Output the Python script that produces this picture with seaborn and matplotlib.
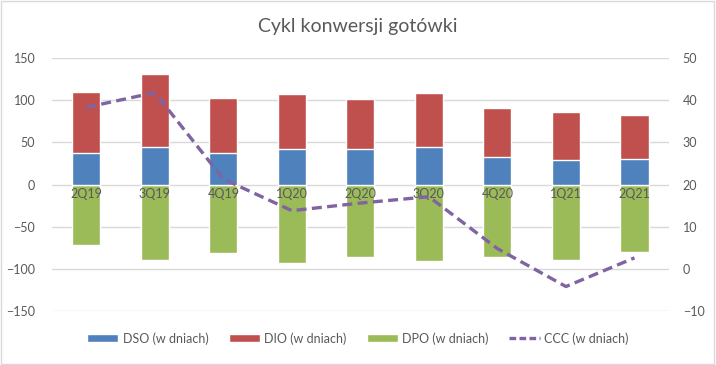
import numpy as np
import pandas as pd
import seaborn as sns
import matplotlib.pyplot as plt
from matplotlib.patches import Patch, Rectangle
from matplotlib.lines import Line2D

# values
quarters = ['2Q19', '3Q19', '4Q19', '1Q20', '2Q20', '3Q20', '4Q20', '1Q21', '2Q21']
dso = [37, 45, 37, 42.5, 42.5, 44, 32.5, 28.5, 30]
dio = [73, 86, 66, 64.5, 59.5, 64, 58.5, 57, 53]
dpo = [-72, -89, -81.5, -93, -86, -91, -86, -89, -80]
ccc = [38.3, 41.8, 21.3, 13.8, 15.6, 17.1, 4.8, -4.2, 2.6]

c_dso = '#4F81BD'
c_dio = '#C0504D'
c_dpo = '#9BBB59'
c_ccc = '#8064A2'
txt = '#595959'
grid = '#D9D9D9'

df = pd.DataFrame({'q': quarters, 'dso': dso, 'dio': dio, 'dpo': dpo, 'ccc': ccc})
df['top'] = df['dso'] + df['dio']

sns.set_style('white')
plt.rcParams['font.family'] = ['Lato', 'DejaVu Sans']

fig = plt.figure(figsize=(7.16, 3.65), dpi=100)
ax = fig.add_axes([0.0726, 0.148, 0.8614, 0.693])

# stacked bars: red total first, blue base on top of it, green negative
sns.barplot(data=df, x='q', y='top', color=c_dio, width=0.41, saturation=1, ax=ax, zorder=2)
sns.barplot(data=df, x='q', y='dso', color=c_dso, width=0.41, saturation=1, ax=ax, zorder=3)
sns.barplot(data=df, x='q', y='dpo', color=c_dpo, width=0.41, saturation=1, ax=ax, zorder=2)

ax.set_ylim(-150, 150)
ax.set_yticks(range(-150, 151, 50))
ax.set_xlim(-0.5, len(quarters) - 0.5)
ax.yaxis.grid(True, color=grid, linewidth=1, zorder=0)
ax.set_axisbelow(True)
ax.set_xlabel('')
ax.set_ylabel('')
ax.set_xticks([])
for s in ax.spines.values():
    s.set_visible(False)
ax.tick_params(axis='y', colors=txt, labelsize=9, length=0, pad=12)

# category labels sit on the zero line, as in the original
for i, q in enumerate(quarters):
    ax.text(i, -4, q, ha='center', va='top', fontsize=9, color=txt, zorder=5)

ax2 = ax.twinx()
sns.lineplot(x=np.arange(len(quarters)), y=df['ccc'], ax=ax2, color=c_ccc,
             linewidth=2.4, linestyle=(0, (3, 1.6)), zorder=6)
ax2.set_ylim(-10, 50)
ax2.set_yticks(range(-10, 51, 10))
ax2.set_ylabel('')
for s in ax2.spines.values():
    s.set_visible(False)
ax2.tick_params(axis='y', colors=txt, labelsize=9, length=0, pad=10)

fig.suptitle('Cykl konwersji gotówki', y=0.95, fontsize=14, color=txt)

handles = [
    Patch(facecolor=c_dso, label='DSO (w dniach)'),
    Patch(facecolor=c_dio, label='DIO (w dniach)'),
    Patch(facecolor=c_dpo, label='DPO (w dniach)'),
    Line2D([0], [0], color=c_ccc, linewidth=2.4, linestyle=(0, (2, 1)), label='CCC (w dniach)'),
]
leg = fig.legend(handles=handles, loc='center', bbox_to_anchor=(0.5, 0.073), ncol=4,
                 frameon=False, fontsize=9, handlelength=2.5, handleheight=0.6,
                 columnspacing=1.6, handletextpad=0.35)
for t in leg.get_texts():
    t.set_color(txt)

fig.patches.append(Rectangle((0.002, 0.003), 0.995, 0.994, transform=fig.transFigure,
                             fill=False, edgecolor=grid, linewidth=1))

fig.savefig('out.png', dpi=100)
